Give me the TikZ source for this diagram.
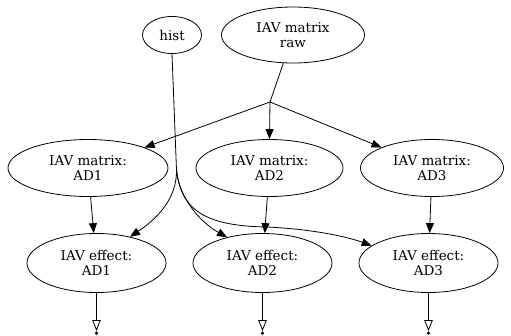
\documentclass[tikz,border=0pt]{standalone}
\usepackage{fontspec}
\setmainfont{DejaVu Serif}
\usetikzlibrary{arrows.meta,shapes.geometric}
\tikzset{
  every node/.style={font=\fontsize{13.5}{15}\selectfont},
  ell/.style={draw, ellipse, inner sep=0pt, line width=0.8pt, align=center},
  edge/.style={draw, line width=0.8pt, -{Triangle[length=10pt,width=8pt]}},
  plain/.style={draw, line width=0.8pt},
  outarrow/.style={draw, line width=0.8pt, -{Triangle[open,length=11pt,width=8.5pt]}},
  enddot/.style={circle, fill=black, inner sep=0pt, minimum size=3.5pt},
}
\begin{document}
\begin{tikzpicture}[x=1pt,y=-1pt]
\useasboundingbox (0,0) rectangle (511,335);
% top nodes
\node[ell, minimum width=59pt, minimum height=37pt] (hist) at (172,35) {hist};
\node[ell, minimum width=143pt, minimum height=56pt] (raw) at (293,35) {IAV matrix\\raw};
% matrices
\node[ell, minimum width=160pt, minimum height=57pt] (m1) at (88,168) {IAV matrix:\\AD1};
\node[ell, minimum width=147pt, minimum height=57pt] (m2) at (269.5,168) {IAV matrix:\\AD2};
\node[ell, minimum width=143pt, minimum height=57pt] (m3) at (432,168) {IAV matrix:\\AD3};
% effects
\node[ell, minimum width=139pt, minimum height=59pt] (e1) at (96.5,263) {IAV effect:\\AD1};
\node[ell, minimum width=139pt, minimum height=59pt] (e2) at (262.5,263) {IAV effect:\\AD2};
\node[ell, minimum width=139pt, minimum height=59pt] (e3) at (428.5,263) {IAV effect:\\AD3};
% junctions
\coordinate (j) at (270,102);
\coordinate (hb) at (176.5,170);
% raw split
\path[plain] (raw) -- (j);
\path[edge] (j) -- (m1);
\path[edge] (j) -- (m2.north);
\path[edge] (j) -- (m3);
% hist edges
\path[plain] (hist.south) -- (hb);
\path[edge] (hb) .. controls (177,198) and (158,218) .. (e1.38);
\path[edge] (hb) .. controls (179,198) and (200,222) .. (e2.144);
\path[edge] (hb) .. controls (181,210) and (205,226) .. (267,227) .. controls (310,229) and (345,236) .. (e3.163);
% matrix to effect
\path[edge] (m1) -- (e1);
\path[edge] (m2) -- (e2);
\path[edge] (m3) -- (e3);
% outputs
\node[enddot] (d1) at (96.5,333) {};
\node[enddot] (d2) at (262.5,333) {};
\node[enddot] (d3) at (428.5,333) {};
\path[outarrow] (e1.south) -- (d1.north);
\path[outarrow] (e2.south) -- (d2.north);
\path[outarrow] (e3.south) -- (d3.north);
\end{tikzpicture}
\end{document}
